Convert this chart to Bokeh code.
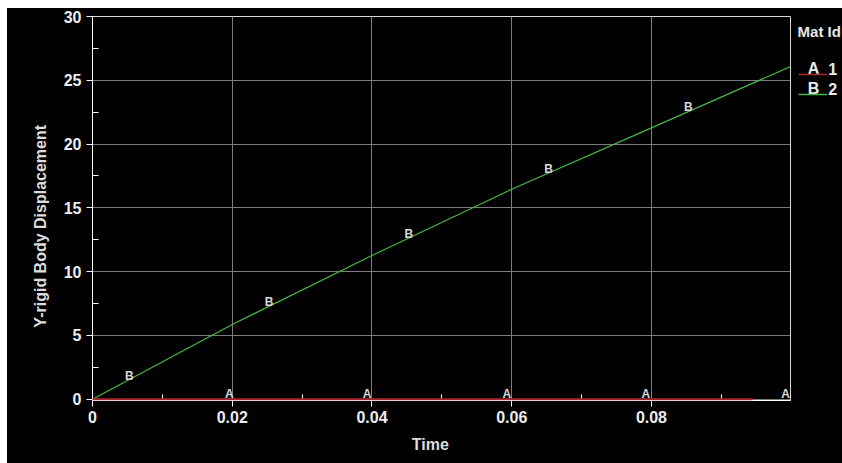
from bokeh.plotting import figure
from bokeh.models import FixedTicker, Range1d, Spacer
from bokeh.layouts import column, row
from bokeh.core.properties import value
from bokeh.embed import file_html
from bokeh.resources import INLINE

# Series B (Mat Id 2): Y-rigid body displacement vs time
b_time = [0.0, 0.02, 0.04, 0.06, 0.08, 0.1]
b_disp = [0.0, 5.86, 11.27, 16.46, 21.27, 26.1]
# Series A (Mat Id 1)
a_time = [0.0, 0.0945]
a_disp = [0.0, 0.0]
# curve marker letters
a_mark_t = [0.0196, 0.0393, 0.0593, 0.0792, 0.0992]
a_mark_y = [0.0, 0.0, 0.0, 0.0, 0.0]
b_mark_t = [0.005, 0.025, 0.045, 0.065, 0.085]
b_mark_y = [1.46, 7.2, 12.57, 17.66, 22.5]
x_ticks = [0.0, 0.02, 0.04, 0.06, 0.08]
x_tick_labels = ["0", "0.02", "0.04", "0.06", "0.08"]
x_minor = [0.01, 0.03, 0.05, 0.07, 0.09]
y_ticks = [0, 5, 10, 15, 20, 25, 30]
y_minor = [2.5, 7.5, 12.5, 17.5, 22.5, 27.5]
legend_title = "Mat Id"
legend_letters = ["A", "B"]
legend_ids = ["1", "2"]

RED = "#a8282a"
GREEN = "#46b846"
FONT = "Liberation Sans"
NBSP = "\u00a0"

p = figure(width=786, height=455, x_range=(0, 0.0999), y_range=(-0.1, 30),
           output_backend="svg", toolbar_location=None,
           min_border_left=85, min_border_right=3, min_border_top=8, min_border_bottom=63)
p.background_fill_color = "black"
p.border_fill_color = "black"
p.outline_line_color = "#d8d8d8"
p.outline_line_width = 1

p.xaxis.ticker = FixedTicker(ticks=x_ticks, minor_ticks=x_minor)
p.yaxis.ticker = FixedTicker(ticks=y_ticks, minor_ticks=y_minor)
p.xaxis.major_label_overrides = dict(zip(x_ticks, x_tick_labels))

for ax in (p.xaxis, p.yaxis):
    ax.axis_line_color = "white"
    ax.major_tick_line_color = "white"
    ax.minor_tick_line_color = "white"
    ax.major_tick_out = 6
    ax.major_tick_in = 0
    ax.minor_tick_in = 6
    ax.minor_tick_out = 0
    ax.major_label_text_color = "#ececec"
    ax.major_label_text_font = FONT
    ax.major_label_text_font_style = "bold"
    ax.major_label_text_font_size = "16px"
    ax.axis_label_text_color = "#dcdcdc"
    ax.axis_label_text_font = FONT
    ax.axis_label_text_font_style = "bold"
    ax.axis_label_text_font_size = "16px"

p.xaxis.axis_label = "Time" + NBSP * 5
p.yaxis.axis_label = "Y-rigid Body Displacement" + NBSP * 8
p.yaxis.major_label_standoff = 5
p.xaxis.major_label_standoff = 4
p.yaxis.axis_label_standoff = 12
p.xaxis.axis_label_standoff = 10

p.xgrid.grid_line_color = "#7c7c7c"
p.ygrid.grid_line_color = "#7c7c7c"

ra = p.line(a_time, a_disp, line_color=RED, line_width=2)
ra.level = "overlay"
p.line(b_time, b_disp, line_color=GREEN, line_width=1.2)

p.text(a_mark_t, a_mark_y, text=["A"] * len(a_mark_t), text_align="center",
       text_baseline="bottom", y_offset=2,
       text_color="#d8d8d8", text_font=value(FONT), text_font_style="bold",
       text_font_size="12px")
p.text(b_mark_t, b_mark_y, text=["B"] * len(b_mark_t), text_align="center",
       text_baseline="bottom", x_offset=2, y_offset=2,
       text_color="#d8d8d8", text_font=value(FONT), text_font_style="bold",
       text_font_size="12px")

# legend panel to the right of the plot (its frame is aligned with the plot frame;
# coordinates = picture pixels)
leg = figure(width=49, height=455, x_range=Range1d(794, 842), y_range=Range1d(400, 16),
             output_backend="svg", toolbar_location=None,
             min_border_left=0, min_border_right=0, min_border_top=0, min_border_bottom=0)
leg.xaxis.visible = False
leg.yaxis.visible = False
leg.xgrid.grid_line_color = None
leg.ygrid.grid_line_color = None
leg.outline_line_color = None
leg.background_fill_color = "black"
leg.border_fill_color = "black"
leg.text([798], [31], text=[legend_title], text_baseline="middle", text_align="left",
         text_color="#e8e8e8", text_font=value(FONT), text_font_style="bold",
         text_font_size="15px")
row_y = [68, 88]
line_y = [74, 94]
leg.text([808, 808], row_y, text=legend_letters, text_baseline="middle",
         text_color="#ececec", text_font=value(FONT), text_font_style="bold",
         text_font_size="16px")
leg.text([828, 828], row_y, text=legend_ids, text_baseline="middle",
         text_color="#ececec", text_font=value(FONT), text_font_style="bold",
         text_font_size="16px")
leg.segment([799, 799], line_y, [827, 827], line_y, line_color=[RED, GREEN], line_width=1.5)

inner = row(p, leg, styles={"background-color": "black"})
layout = column(Spacer(width=842, height=8),
                row(Spacer(width=7, height=455), inner))
open("out.html", "w").write(file_html(layout, INLINE))
